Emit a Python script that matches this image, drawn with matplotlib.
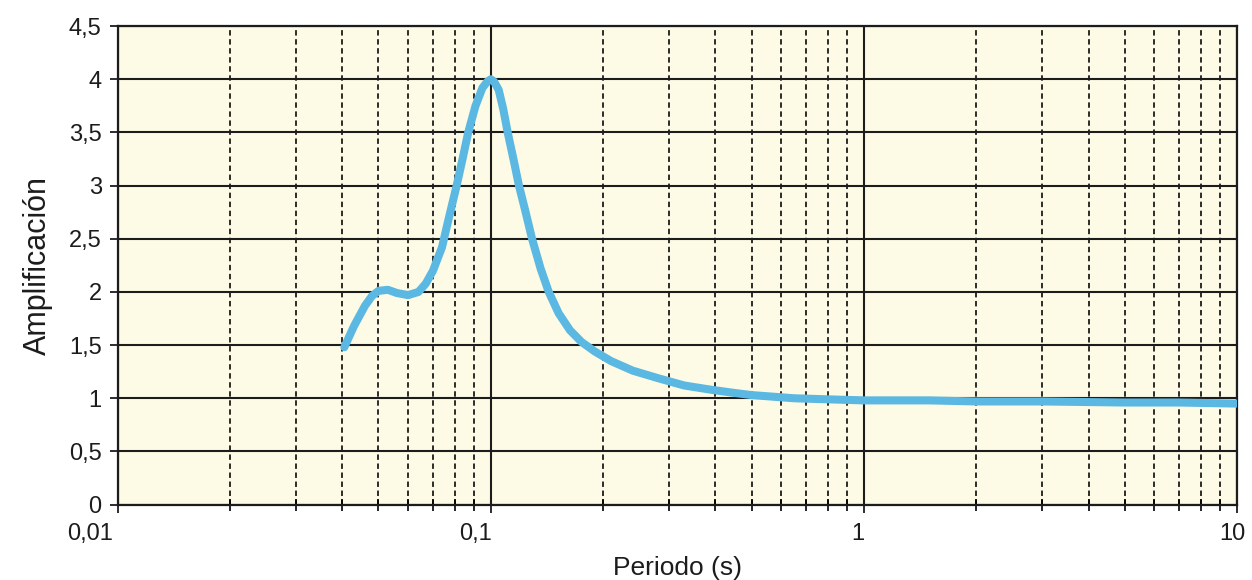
"""
Amplification spectrum vs period (log x axis).
"""

import matplotlib.pyplot as plt
from matplotlib.ticker import FixedLocator, FixedFormatter, LogLocator, NullFormatter
from matplotlib.transforms import ScaledTranslation

# data
periodo = [0.0405, 0.043, 0.046, 0.048, 0.05, 0.053, 0.056, 0.06, 0.064, 0.067,
           0.07, 0.074, 0.077, 0.081, 0.084, 0.087, 0.091, 0.095, 0.098, 0.1,
           0.102, 0.105, 0.108, 0.111, 0.115, 0.119, 0.124, 0.129, 0.136, 0.143,
           0.152, 0.163, 0.175, 0.19, 0.21, 0.24, 0.28, 0.33, 0.39, 0.45,
           0.5, 0.65, 0.8, 1.0, 1.5, 2.0, 3.0, 5.0, 7.0, 10.0]
amplificacion = [1.48, 1.68, 1.87, 1.96, 2.01, 2.02, 1.99, 1.97, 2.0, 2.08,
                 2.2, 2.42, 2.68, 3.0, 3.25, 3.5, 3.75, 3.92, 3.98, 4.0,
                 3.98, 3.9, 3.72, 3.5, 3.25, 3.0, 2.75, 2.5, 2.22, 2.0,
                 1.8, 1.64, 1.53, 1.44, 1.35, 1.26, 1.19, 1.12, 1.08, 1.05,
                 1.03, 1.0, 0.99, 0.98, 0.98, 0.97, 0.97, 0.96, 0.96, 0.95]

ytick_vals = [0, 0.5, 1, 1.5, 2, 2.5, 3, 3.5, 4, 4.5]
ytick_labels = ['0', '0,5', '1', '1,5', '2', '2,5', '3', '3,5', '4', '4,5']
xtick_vals = [0.01, 0.1, 1, 10]
xtick_labels = ['0,01', '0,1', '1', '10']
# the scanned labels sit a little off their ticks (pixels)
xtick_shift = [-28, -15, -6, -5]

plt.rcParams['font.family'] = ['Liberation Sans', 'DejaVu Sans']

fig = plt.figure(figsize=(12.52, 5.8), dpi=100)
ax = fig.add_axes([0.094, 0.13, 0.894, 0.825])
ax.set_facecolor('#fdfbe5')

ax.set_xscale('log')
ax.set_xlim(0.01, 10)
ax.set_ylim(0, 4.5)

# grid: solid decades / y steps, dashed minor decades
ax.xaxis.set_major_locator(FixedLocator(xtick_vals))
ax.xaxis.set_major_formatter(FixedFormatter(xtick_labels))
ax.xaxis.set_minor_locator(LogLocator(base=10, subs=range(2, 10)))
ax.xaxis.set_minor_formatter(NullFormatter())
ax.yaxis.set_major_locator(FixedLocator(ytick_vals))
ax.yaxis.set_major_formatter(FixedFormatter(ytick_labels))

ax.grid(which='major', axis='both', color='#1c1c1c', linestyle='-', linewidth=1.5)
ax.grid(which='minor', axis='x', color='#1c1c1c', linestyle=(0, (3, 2)), linewidth=1.3)
ax.set_axisbelow(True)

ax.plot(periodo, amplificacion, color='#5bb8e2', linewidth=5.8,
        solid_capstyle='round', solid_joinstyle='round', zorder=3)

ax.tick_params(axis='both', which='major', direction='inout', length=11,
               width=1.3, labelsize=17, colors='#1c1c1c')
ax.tick_params(axis='x', which='minor', direction='inout', length=9, width=1.2)
ax.tick_params(axis='x', which='major', pad=8)
ax.tick_params(axis='y', which='major', pad=6)

for side in ('left', 'bottom', 'top', 'right'):
    ax.spines[side].set_linewidth(1.6)
    ax.spines[side].set_color('#1c1c1c')

fig.canvas.draw()
for lbl, dx in zip(ax.get_xticklabels(), xtick_shift):
    lbl.set_transform(lbl.get_transform() + ScaledTranslation(dx / 100, 0, fig.dpi_scale_trans))

ax.set_xlabel('Periodo (s)', fontsize=19, color='#1c1c1c', labelpad=8)
ax.set_ylabel('Amplificación', fontsize=22, color='#1c1c1c')
ax.yaxis.set_label_coords(-0.058, 0.5)

fig.savefig('out.png', dpi=100, facecolor='white')
